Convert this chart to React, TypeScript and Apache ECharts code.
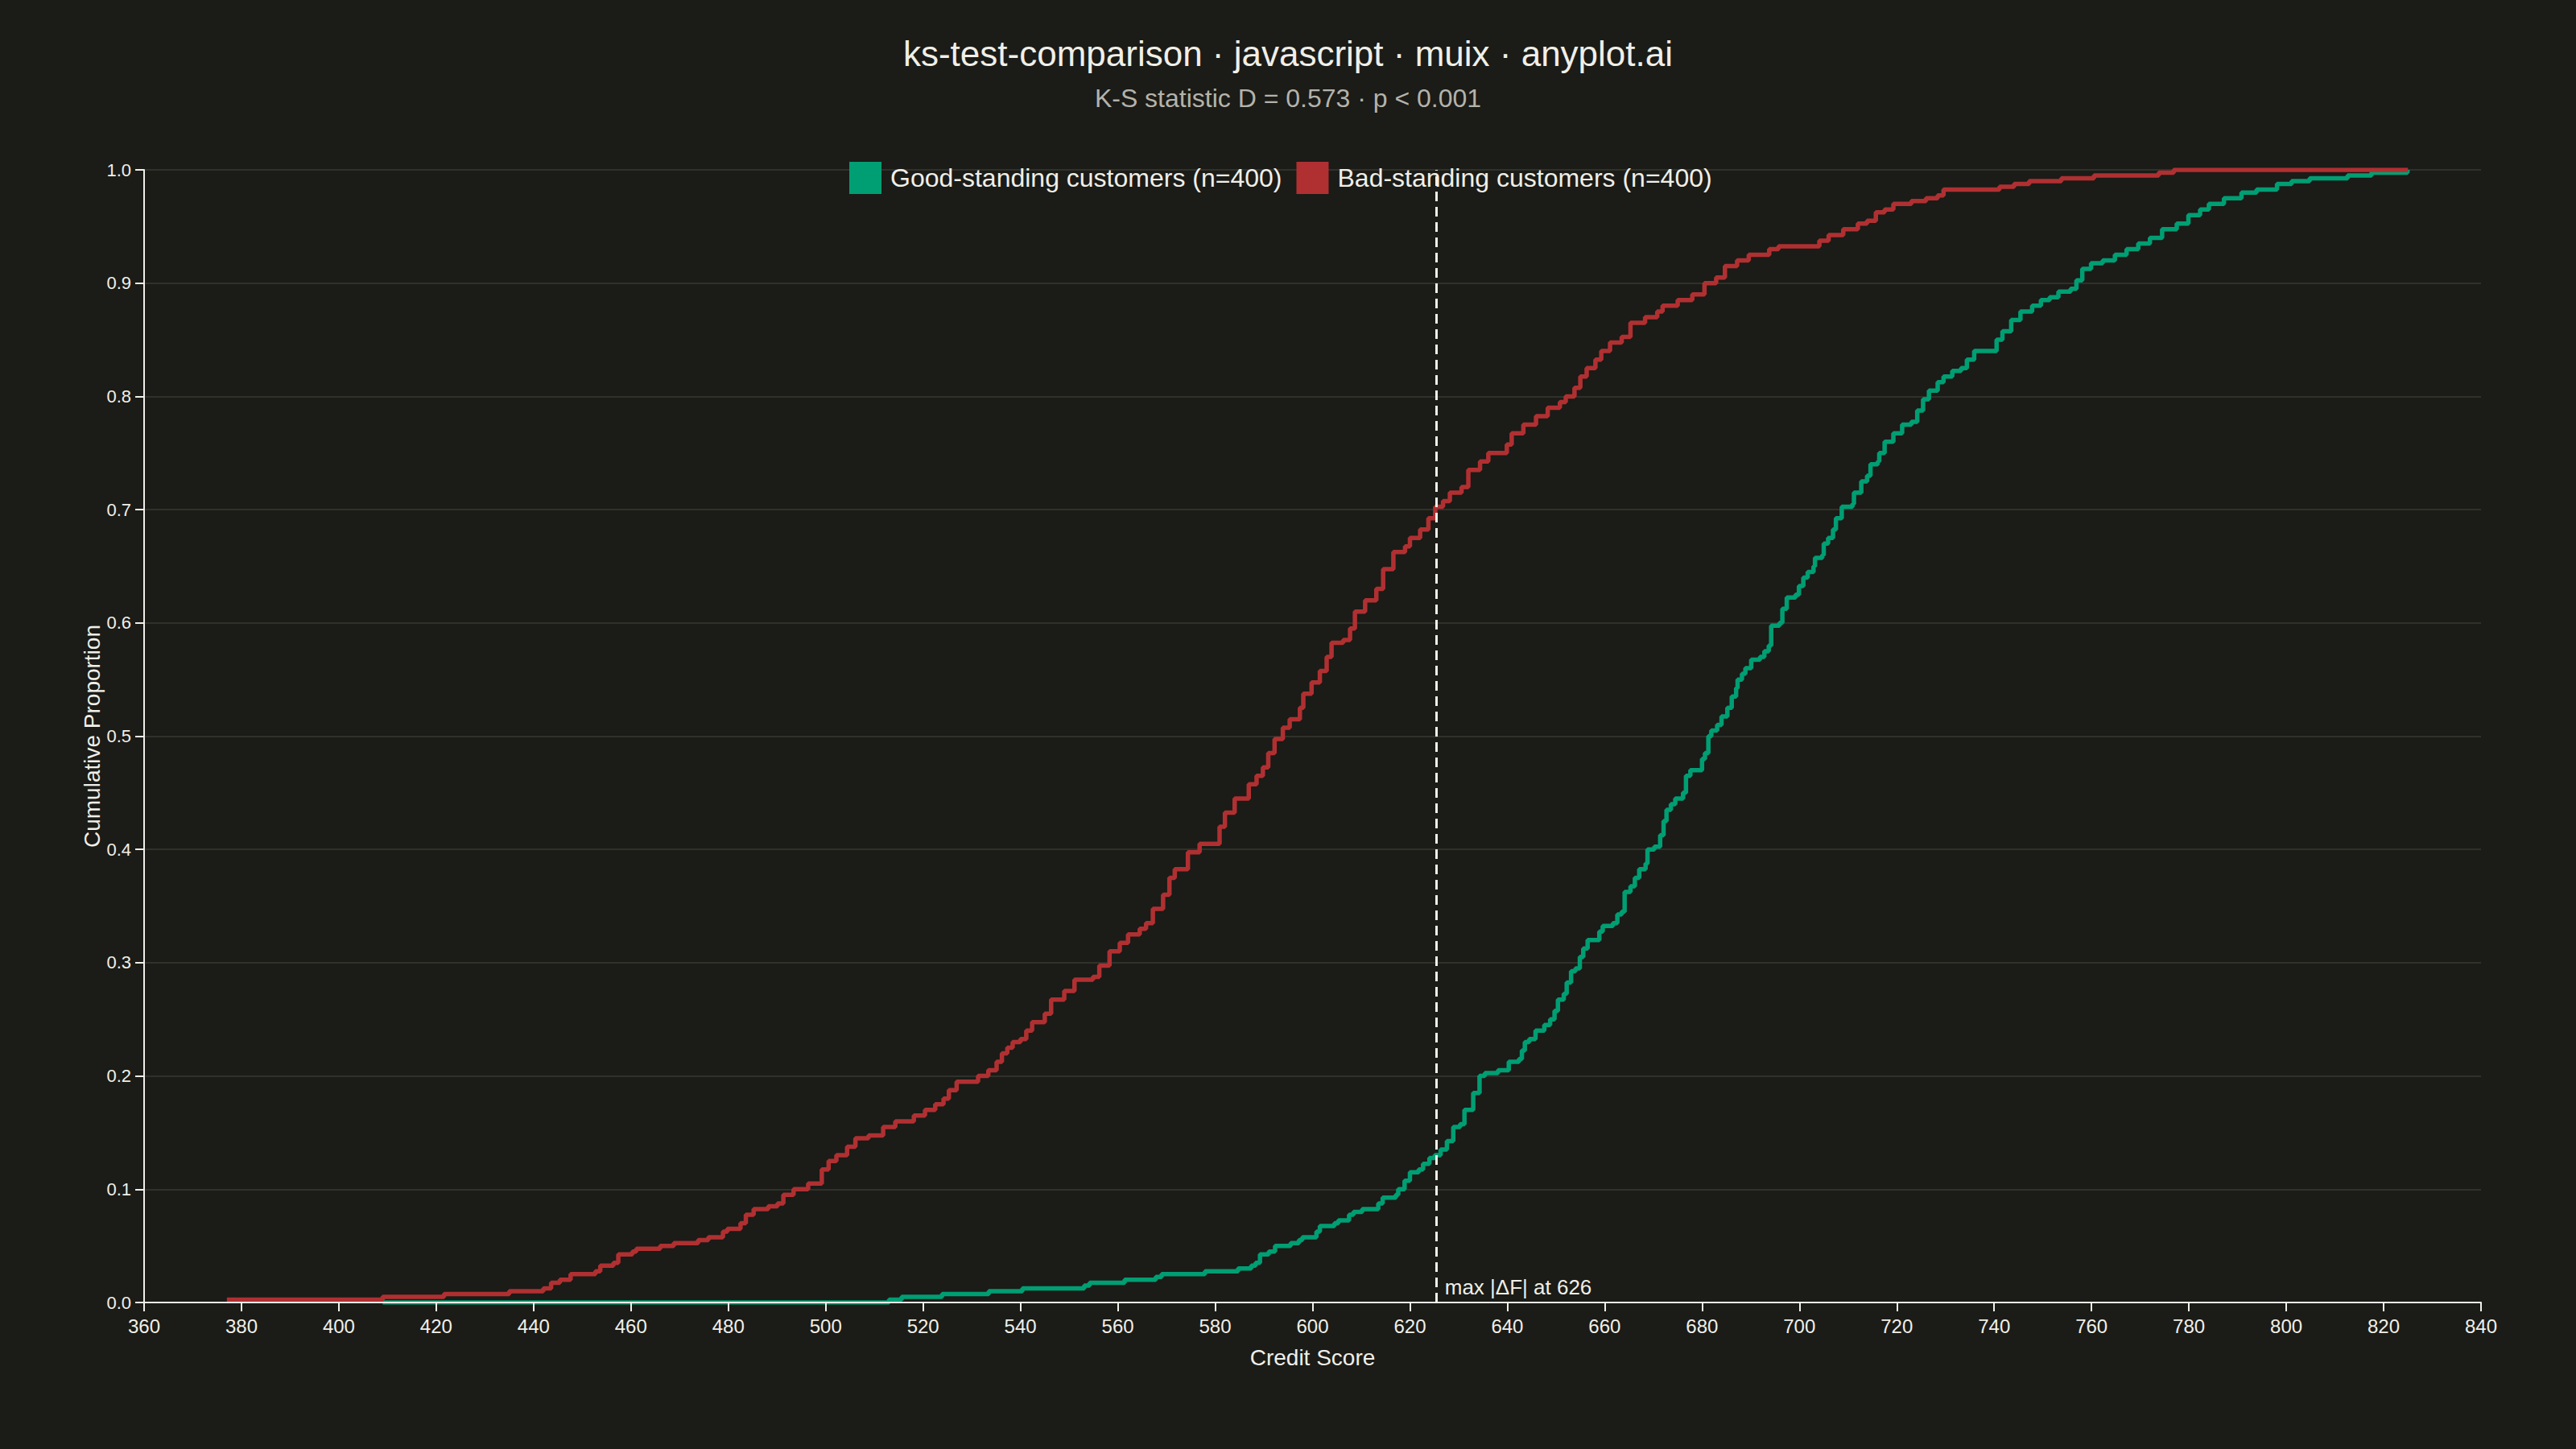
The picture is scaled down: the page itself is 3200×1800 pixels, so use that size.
import { useEffect, useRef } from 'react';
import * as echarts from 'echarts';

// ---- data (score, cumulative count out of N) ----
const N = 400;

const GOOD_SCORES = [
  409, 513, 515.6, 523.9, 533.5, 540.4, 553.1, 554.2, 561.4, 567.8, 569, 577.9, 584.7, 587.4, 588.3,
  589.2, 591, 592.3, 595.5, 597.2, 597.9, 600.8, 601.5, 604.5, 605.3, 607.5, 608.4, 610.2, 613.5,
  614.4, 617.1, 617.6, 618.9, 620, 621.8, 622.7, 624, 625.1, 626.3, 627.6, 628.9, 630.3, 631.2, 633,
  634.3, 635.4, 638.1, 640.3, 642.4, 643, 643.6, 644.5, 645.8, 647.6, 648.8, 649.7, 650.4, 651.6,
  652.2, 653.1, 654, 654.9, 655.6, 656.5, 658.9, 659.6, 661.7, 662.6, 663.5, 664.1, 665.3, 666.2,
  667.1, 668.4, 668.8, 670.2, 671.4, 672.1, 672.7, 673.6, 674.5, 676.1, 676.7, 677.6, 680, 680.6,
  681.3, 681.9, 683.1, 684, 685.2, 686.1, 687, 687.3, 688.2, 688.9, 690.1, 691.9, 692.8, 693.7, 694.2,
  695.9, 696.5, 697.4, 699.2, 699.9, 700.8, 701.7, 702.9, 703.2, 704.7, 705, 705.9, 706.9, 707.5,
  708.7, 710.9, 711.2, 712.7, 713.9, 714.6, 716.1, 716.4, 717.5, 719.3, 721.1, 723, 724.2, 725.4,
  726.6, 728.4, 729.6, 731.4, 733.2, 734.4, 735.9, 740.5, 741.7, 743.5, 745.4, 747.8, 749.6, 751.4,
  753.2, 755.7, 756.9, 758.1, 759.9, 762.3, 764.8, 767.2, 769.6, 772, 774.5, 777.5, 779.9, 782.3,
  784.1, 787.2, 790.8, 793.9, 798.1, 801.1, 804.8, 812.6, 817.5, 824.9,
];
const GOOD_COUNTS = [
  0, 1, 2, 3, 4, 5, 6, 7, 8, 9, 10, 11, 12, 13, 14,
  17, 18, 20, 21, 22, 23, 25, 27, 28, 29, 31, 32, 33, 35,
  37, 38, 40, 43, 46, 47, 49, 51, 52, 54, 57, 62, 63, 68, 74,
  80, 81, 82, 85, 86, 89, 92, 93, 96, 98, 100, 103, 107, 109,
  113, 117, 118, 122, 125, 128, 131, 133, 134, 137, 138, 145, 147, 150,
  153, 155, 160, 161, 165, 170, 174, 176, 178, 180, 186, 188, 192, 194,
  200, 202, 204, 207, 210, 214, 217, 220, 222, 224, 227, 228, 230, 232, 239,
  240, 245, 249, 250, 253, 256, 258, 260, 263, 264, 268, 270, 273, 277,
  281, 282, 286, 290, 292, 296, 297, 300, 304, 307, 310, 311, 315, 319,
  322, 325, 327, 329, 330, 333, 336, 340, 343, 347, 350, 352, 354, 355,
  357, 358, 361, 365, 367, 368, 370, 372, 374, 376, 379, 381, 384, 386,
  388, 390, 392, 393, 395, 396, 397, 398, 399, 400,
];

const BAD_SCORES = [
  377, 409, 421.6, 435, 442, 443.6, 445.4, 447.6, 452.7, 453.7, 456.4, 457.4, 460.3, 461.1, 466,
  468.8, 473.8, 475.9, 478.9, 479.8, 482.5, 483.6, 485.2, 488.2, 490.1, 491.3, 493.4, 496.4, 499.2,
  500.6, 502.2, 504.4, 506.1, 508.8, 511.8, 514.3, 518.1, 520.4, 522.5, 524.2, 525.3, 526.9, 531.3,
  533.4, 535.1, 536.2, 537.3, 538.4, 540, 541.2, 542.4, 545, 546.3, 549, 551.1, 554.9, 556.2, 558.3,
  560.4, 562.1, 564.5, 565.8, 567.2, 569.3, 570.6, 571.7, 574.4, 576.8, 580.9, 582, 584, 586.9,
  588.5, 589.8, 590.9, 592.2, 593.9, 595.3, 597.4, 598.1, 599.8, 601.5, 602.9, 603.9, 606.3, 607.7,
  608.7, 610.8, 613.1, 614.5, 616.6, 619, 620, 622.1, 623.8, 625.2, 626.8, 628.2, 630.6, 632, 634.4,
  636.1, 639.9, 640.9, 643.3, 645.9, 648.3, 650.8, 652, 653.8, 655, 656.3, 658.1, 659.3, 661.1, 663.5,
  665.3, 668.3, 670.8, 671.9, 675, 678, 680.5, 682.9, 684.7, 687.2, 689.6, 693.8, 695.7, 704.1, 706,
  709, 712, 713.9, 715.7, 717.5, 719.3, 723, 726, 728.4, 729.6, 741.1, 744.1, 747.2, 753.8, 760.5,
  773.8, 776.9, 825,
];
const BAD_COUNTS = [
  1, 2, 3, 4, 5, 7, 8, 10, 11, 13, 14, 17, 18, 19, 20,
  21, 22, 23, 25, 26, 28, 31, 33, 34, 35, 38, 40, 42, 47,
  50, 52, 55, 58, 59, 62, 64, 66, 68, 70, 72, 75, 78, 80,
  82, 85, 88, 90, 92, 93, 96, 99, 102, 107, 110, 114, 115, 119, 124,
  127, 130, 132, 134, 139, 144, 150, 153, 159, 162, 168, 173, 178, 183,
  186, 189, 194, 199, 203, 206, 210, 215, 219, 223, 228, 233, 234, 238,
  244, 248, 252, 259, 265, 267, 270, 273, 277, 281, 283, 286, 288, 294, 297,
  300, 303, 307, 310, 313, 316, 318, 320, 323, 327, 330, 333, 336, 339, 341,
  346, 348, 350, 352, 354, 356, 360, 362, 366, 368, 370, 372, 373, 375, 377,
  379, 381, 382, 385, 386, 388, 389, 390, 391, 393, 394, 395, 396, 397, 398,
  399, 400, 400,
];

const GOOD_NAME = 'Good-standing customers (n=400)';
const BAD_NAME = 'Bad-standing customers (n=400)';
const TITLE = 'ks-test-comparison · javascript · muix · anyplot.ai';
const SUBTITLE = 'K-S statistic D = 0.573 · p < 0.001';
const Y_NAME = 'Cumulative Proportion';
const X_NAME = 'Credit Score';
const KS_X = 625.5;
const KS_LABEL = 'max |ΔF| at 626';
const X_MIN = 360;
const X_MAX = 840;
const X_STEP = 20;
const Y_MIN = 0;
const Y_MAX = 1;
const Y_STEP = 0.1;

// ---- styles ----
const BG = '#1b1b17';
const FG = '#f0efe8';
const MUTED = '#b4b3ab';
const GRID = '#3a3a35';
const GREEN = '#009e73';
const RED = '#b03032';
const FONT = '"Liberation Sans", Arial, sans-serif';

export default function App() {
  const ref = useRef<HTMLDivElement>(null);

  useEffect(() => {
    document.body.style.margin = '0';
    document.body.style.background = BG;
    const el = ref.current!;
    const chart = echarts.init(el, null, { renderer: 'svg' });

    const good = GOOD_SCORES.map((s, i) => [s, GOOD_COUNTS[i] / N]);
    const bad = BAD_SCORES.map((s, i) => [s, BAD_COUNTS[i] / N]);

    chart.setOption({
      animation: false,
      backgroundColor: BG,
      textStyle: { fontFamily: FONT, color: FG },
      title: [
        {
          text: TITLE,
          left: 'center',
          top: 39,
          textStyle: { fontFamily: FONT, fontSize: 44, fontWeight: 'normal', color: FG },
        },
        {
          text: SUBTITLE,
          left: 'center',
          top: 101,
          textStyle: { fontFamily: FONT, fontSize: 32, fontWeight: 'normal', color: MUTED },
        },
      ],
      legend: {
        top: 196,
        left: 1050,
        icon: 'rect',
        itemWidth: 40,
        itemHeight: 40,
        itemGap: 18,
        textStyle: { fontFamily: FONT, fontSize: 32, color: FG, padding: [0, 0, 0, 6] },
        data: [GOOD_NAME, BAD_NAME],
      },
      grid: { left: 179, right: 118, top: 211, bottom: 182, containLabel: false },
      xAxis: {
        type: 'value',
        min: X_MIN,
        max: X_MAX,
        interval: X_STEP,
        z: 5,
        name: X_NAME,
        nameLocation: 'middle',
        nameGap: 54,
        nameMoveOverlap: false,
        nameTextStyle: { fontFamily: FONT, fontSize: 28, color: FG },
        axisLine: { show: true, lineStyle: { color: FG, width: 2 } },
        axisTick: { show: true, length: 11, lineStyle: { color: FG, width: 2 } },
        axisLabel: { fontFamily: FONT, fontSize: 24, color: FG, margin: 17 },
        splitLine: { show: false },
      },
      yAxis: {
        type: 'value',
        min: Y_MIN,
        max: Y_MAX,
        interval: Y_STEP,
        name: Y_NAME,
        nameLocation: 'middle',
        nameGap: 51,
        nameMoveOverlap: false,
        nameTextStyle: { fontFamily: FONT, fontSize: 28, color: FG },
        axisLine: { show: true, lineStyle: { color: FG, width: 2 } },
        axisTick: { show: true, length: 11, lineStyle: { color: FG, width: 2 } },
        axisLabel: {
          fontFamily: FONT,
          fontSize: 22,
          color: FG,
          margin: 16,
          formatter: (v: number) => v.toFixed(1),
        },
        splitLine: { show: true, lineStyle: { color: GRID, width: 1.5 } },
      },
      series: [
        {
          name: GOOD_NAME,
          type: 'line',
          step: 'end',
          symbol: 'none',
          data: good,
          color: GREEN,
          lineStyle: { color: GREEN, width: 5.5 },
          z: 2,
        },
        {
          name: BAD_NAME,
          type: 'line',
          step: 'end',
          symbol: 'none',
          data: bad,
          color: RED,
          lineStyle: { color: RED, width: 5.5 },
          z: 3,
          markLine: {
            silent: true,
            symbol: ['none', 'none'],
            label: { show: false },
            lineStyle: { color: FG, type: [12, 7], width: 3 },
            data: [{ xAxis: KS_X }],
          },
        },
      ],
    });

    const [px, py] = chart.convertToPixel({ gridIndex: 0 }, [KS_X, 0]) as number[];
    chart.setOption({
      graphic: [
        {
          type: 'text',
          x: px + 10,
          y: py - 6,
          z: 10,
          style: {
            text: KS_LABEL,
            fill: FG,
            font: `26px ${FONT}`,
            textAlign: 'left',
            textVerticalAlign: 'bottom',
          },
        },
      ],
    });

    return () => chart.dispose();
  }, []);

  return <div ref={ref} style={{ width: 3200, height: 1800 }} />;
}
